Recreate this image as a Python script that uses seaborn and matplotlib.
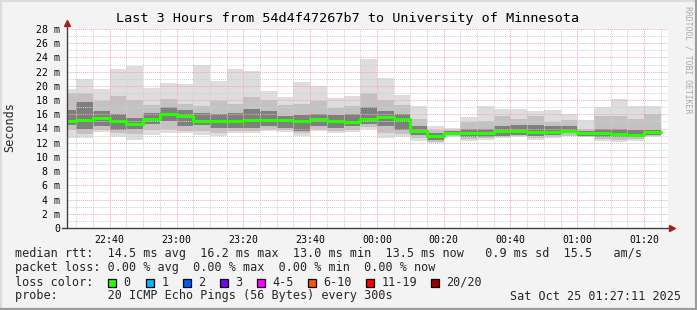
import matplotlib
matplotlib.use("Agg")
import matplotlib.pyplot as plt
from matplotlib.lines import Line2D
from matplotlib.patches import Rectangle
import numpy as np
import pandas as pd
import seaborn as sns

# ---------------- data ----------------
bin_start = ["22:25", "22:30", "22:35", "22:40", "22:45", "22:50", "22:55", "23:00",
             "23:05", "23:10", "23:15", "23:20", "23:25", "23:30", "23:35", "23:40",
             "23:45", "23:50", "23:55", "00:00", "00:05", "00:10", "00:15", "00:20",
             "00:25", "00:30", "00:35", "00:40", "00:45", "00:50", "00:55", "01:00",
             "01:05", "01:10", "01:15", "01:20"]
bin_end = "01:25"

rtt_max = [19.5, 20.9, 19.5, 22.4, 22.8, 19.75, 20.45, 20.2, 23.0, 20.7, 22.4, 22.1,
           19.3, 18.5, 20.5, 20.0, 18.25, 18.6, 23.8, 21.1, 18.7, 17.1, 14.35, 14.1,
           15.6, 17.1, 16.7, 16.75, 16.5, 16.6, 16.1, 15.2, 17.0, 18.15, 17.1, 17.2]
rtt_p90 = [19.0, 19.0, 17.8, 18.6, 18.0, 17.3, 18.1, 17.5, 17.2, 17.8, 17.5, 18.5,
           18.0, 17.3, 17.5, 17.8, 16.9, 17.1, 19.0, 18.0, 17.3, 15.4, 13.8, 13.8,
           14.9, 15.0, 15.7, 15.4, 15.8, 14.9, 15.2, 14.0, 15.7, 15.7, 15.4, 16.0]
rtt_p75 = [16.6, 17.7, 16.4, 16.0, 15.5, 16.2, 17.0, 16.6, 16.2, 16.1, 16.2, 16.8,
           16.4, 15.7, 15.9, 16.1, 15.9, 16.1, 17.0, 16.4, 16.1, 14.3, 13.3, 13.6,
           14.0, 14.0, 14.3, 14.5, 14.5, 14.3, 14.4, 13.6, 14.0, 13.9, 13.8, 13.8]
rtt_med = [15.0, 15.2, 15.5, 15.1, 14.7, 15.4, 16.1, 15.7, 15.1, 15.1, 15.1, 15.25,
           15.2, 15.2, 15.05, 15.4, 15.1, 14.95, 15.4, 15.6, 15.4, 13.7, 12.95, 13.4,
           13.3, 13.4, 13.65, 13.7, 13.45, 13.55, 13.7, 13.4, 13.4, 13.2, 13.1, 13.5]
rtt_p25 = [14.5, 14.0, 14.3, 13.8, 14.0, 14.7, 15.0, 14.3, 14.5, 14.1, 14.1, 14.1,
           14.3, 14.1, 13.6, 14.3, 14.1, 14.3, 14.6, 14.3, 13.8, 13.1, 12.4, 13.1,
           12.85, 12.85, 12.9, 13.1, 12.9, 13.1, 13.3, 13.0, 12.85, 12.75, 12.75, 13.1]
rtt_p10 = [13.8, 13.2, 13.8, 13.3, 13.2, 13.8, 14.0, 13.7, 13.6, 13.4, 13.6, 13.6,
           13.9, 13.8, 13.3, 13.9, 13.6, 13.8, 14.2, 13.3, 13.2, 12.7, 12.1, 12.95,
           12.55, 12.6, 12.75, 12.9, 12.6, 12.85, 13.0, 12.85, 12.5, 12.4, 12.5, 12.9]
rtt_min = [12.6, 12.6, 13.5, 12.8, 12.4, 13.1, 13.4, 13.3, 13.1, 12.95, 13.3, 13.4,
           13.65, 13.55, 12.95, 13.7, 13.3, 13.55, 13.9, 12.6, 12.76, 12.3, 11.9, 12.85,
           12.3, 12.4, 12.6, 12.76, 12.4, 12.6, 12.95, 12.76, 12.3, 12.1, 12.2, 12.85]

x_major_labels = ["22:40", "23:00", "23:20", "23:40", "00:00", "00:20", "00:40", "01:00", "01:20"]
y_major = [0, 2, 4, 6, 8, 10, 12, 14, 16, 18, 20, 22, 24, 26, 28]

title = "Last 3 Hours from 54d4f47267b7 to University of Minnesota"
legend_lines = [
    "median rtt:  14.5 ms avg  16.2 ms max  13.0 ms min  13.5 ms now   0.9 ms sd  15.5   am/s",
    "packet loss: 0.00 % avg  0.00 % max  0.00 % min  0.00 % now",
]
loss_labels = ["0", "1", "2", "3", "4-5", "6-10", "11-19", "20/20"]
loss_colors = ["#26ff00", "#00b8ff", "#0059ff", "#7e00ff", "#ff00ff", "#ff5500", "#ff0000", "#a10000"]
probe_text = "probe:       20 ICMP Echo Pings (56 Bytes) every 300s"
date_text = "Sat Oct 25 01:27:11 2025"
window_start = "22:27:11"
window_end = "01:27:11"


def to_min(s):
    parts = [int(p) for p in s.split(":")]
    h, m = parts[0], parts[1]
    sec = parts[2] if len(parts) > 2 else 0
    v = h * 60 + m + sec / 60.0
    if h < 12:
        v += 1440
    return v


edges = [to_min(t) for t in bin_start] + [to_min(bin_end)]


def ext(a):
    return list(a) + [a[-1]]


df = pd.DataFrame({"t": edges, "med": ext(rtt_med)})

# ---------------- figure ----------------
W, H = 697, 310
sns.set_style("white")
plt.rcParams["font.family"] = ["DejaVu Sans Mono", "DejaVu Sans"]
fig = plt.figure(figsize=(W / 100, H / 100), dpi=100)
fig.patch.set_facecolor("#f3f3f3")


def fx(x):
    return x / W


def fy(y):
    return 1 - y / H


ax_l, ax_r, ax_t, ax_b = 67, 668, 29, 228
ax = fig.add_axes([fx(ax_l), fy(ax_b), fx(ax_r) - fx(ax_l), fy(ax_t) - fy(ax_b)])
ax.set_facecolor("white")

# smoke bands
ax.fill_between(edges, ext(rtt_min), ext(rtt_max), step="post", color="#dddddd", lw=0, zorder=1)
ax.fill_between(edges, ext(rtt_p10), ext(rtt_p90), step="post", color="#c2c2c2", lw=0, zorder=1.1)
ax.fill_between(edges, ext(rtt_p25), ext(rtt_p75), step="post", color="#7f7f7f", lw=0, zorder=1.2)

# median line
sns.lineplot(data=df, x="t", y="med", drawstyle="steps-post", color="#26ff00",
             linewidth=2.2, estimator=None, ax=ax, zorder=3)

ax.set_xlim(to_min(window_start), to_min(window_end))
ax.set_ylim(0, 28)

ax.set_xticks([to_min(s) for s in x_major_labels])
ax.set_xticklabels(x_major_labels)
ax.set_xticks(np.arange(to_min("22:30"), to_min("01:27"), 5), minor=True)
ax.set_yticks(y_major)
ax.set_yticklabels(["0" if v == 0 else f"{v} m" for v in y_major])
ax.set_yticks(np.arange(1, 28, 2), minor=True)

ax.grid(which="major", color="#f4a8a8", linestyle=(0, (1, 1)), linewidth=0.7)
ax.grid(which="minor", color="#d0d0d0", linestyle=(0, (1, 1)), linewidth=0.7)
ax.set_axisbelow(False)

for s in ax.spines.values():
    s.set_visible(False)

ax.tick_params(axis="both", which="both", colors="#404040", labelcolor="black",
               labelsize=7.1, direction="out")
ax.tick_params(axis="y", which="major", length=3, width=0.8, pad=2)
ax.tick_params(axis="y", which="minor", length=0)
ax.tick_params(axis="x", which="major", length=2, width=0.8, pad=3)
ax.tick_params(axis="x", which="minor", length=1.5, width=0.8)
ax.set_xlabel("")
ax.set_ylabel("")

# axis lines with arrows
ax.add_line(Line2D([0, 0], [0, 1.01], transform=ax.transAxes, color="#404040", lw=1.0,
                   clip_on=False, zorder=5))
ax.add_line(Line2D([-0.008, 1.0], [0, 0], transform=ax.transAxes, color="#404040", lw=1.0,
                   clip_on=False, zorder=5))
ax.plot([0], [1.03], marker="^", markersize=4.5, color="#a02020", transform=ax.transAxes,
        clip_on=False, zorder=6)
ax.plot([1.006], [0], marker=">", markersize=4.5, color="#a02020", transform=ax.transAxes,
        clip_on=False, zorder=6)

# texts
fig.text(fx(348), fy(18.5), title, ha="center", va="center", fontsize=9.7, color="black")
fig.text(fx(10), fy(127), "Seconds", rotation=90, ha="center", va="center", fontsize=8.5)
fig.text(fx(688), fy(6), "RRDTOOL / TOBI OETIKER", rotation=270, ha="center", va="top",
         fontsize=5.9, color="#aaaaaa")

lx = 15
fig.text(fx(lx), fy(254), legend_lines[0], ha="left", va="center", fontsize=8.5)
fig.text(fx(lx), fy(268), legend_lines[1], ha="left", va="center", fontsize=8.5)
fig.text(fx(lx), fy(282), "loss color:", ha="left", va="center", fontsize=8.5)
box_x = [108, 146, 183, 219.5, 257, 307.5, 366, 431]
for bx, lab, col in zip(box_x, loss_labels, loss_colors):
    fig.patches.append(Rectangle((fx(bx), fy(286.5)), fx(8), 8 / H, transform=fig.transFigure,
                                 facecolor=col, edgecolor="black", lw=0.9, figure=fig))
    fig.text(fx(bx + 15.5), fy(282), lab, ha="left", va="center", fontsize=8.5)
fig.text(fx(lx), fy(296), probe_text, ha="left", va="center", fontsize=8.5)
fig.text(fx(681), fy(296), date_text, ha="right", va="center", fontsize=8.5)

# frame
fig.add_artist(Line2D([0, 1], [fy(0.5), fy(0.5)], transform=fig.transFigure, color="#dcdcdc", lw=1.5))
fig.add_artist(Line2D([fx(0.5), fx(0.5)], [0, 1], transform=fig.transFigure, color="#dcdcdc", lw=1.5))
fig.add_artist(Line2D([0, 1], [fy(309), fy(309)], transform=fig.transFigure, color="#9c9c9c", lw=1.6))
fig.add_artist(Line2D([fx(696), fx(696)], [0, 1], transform=fig.transFigure, color="#9c9c9c", lw=1.6))

fig.savefig("out.png", dpi=100, facecolor=fig.get_facecolor())
